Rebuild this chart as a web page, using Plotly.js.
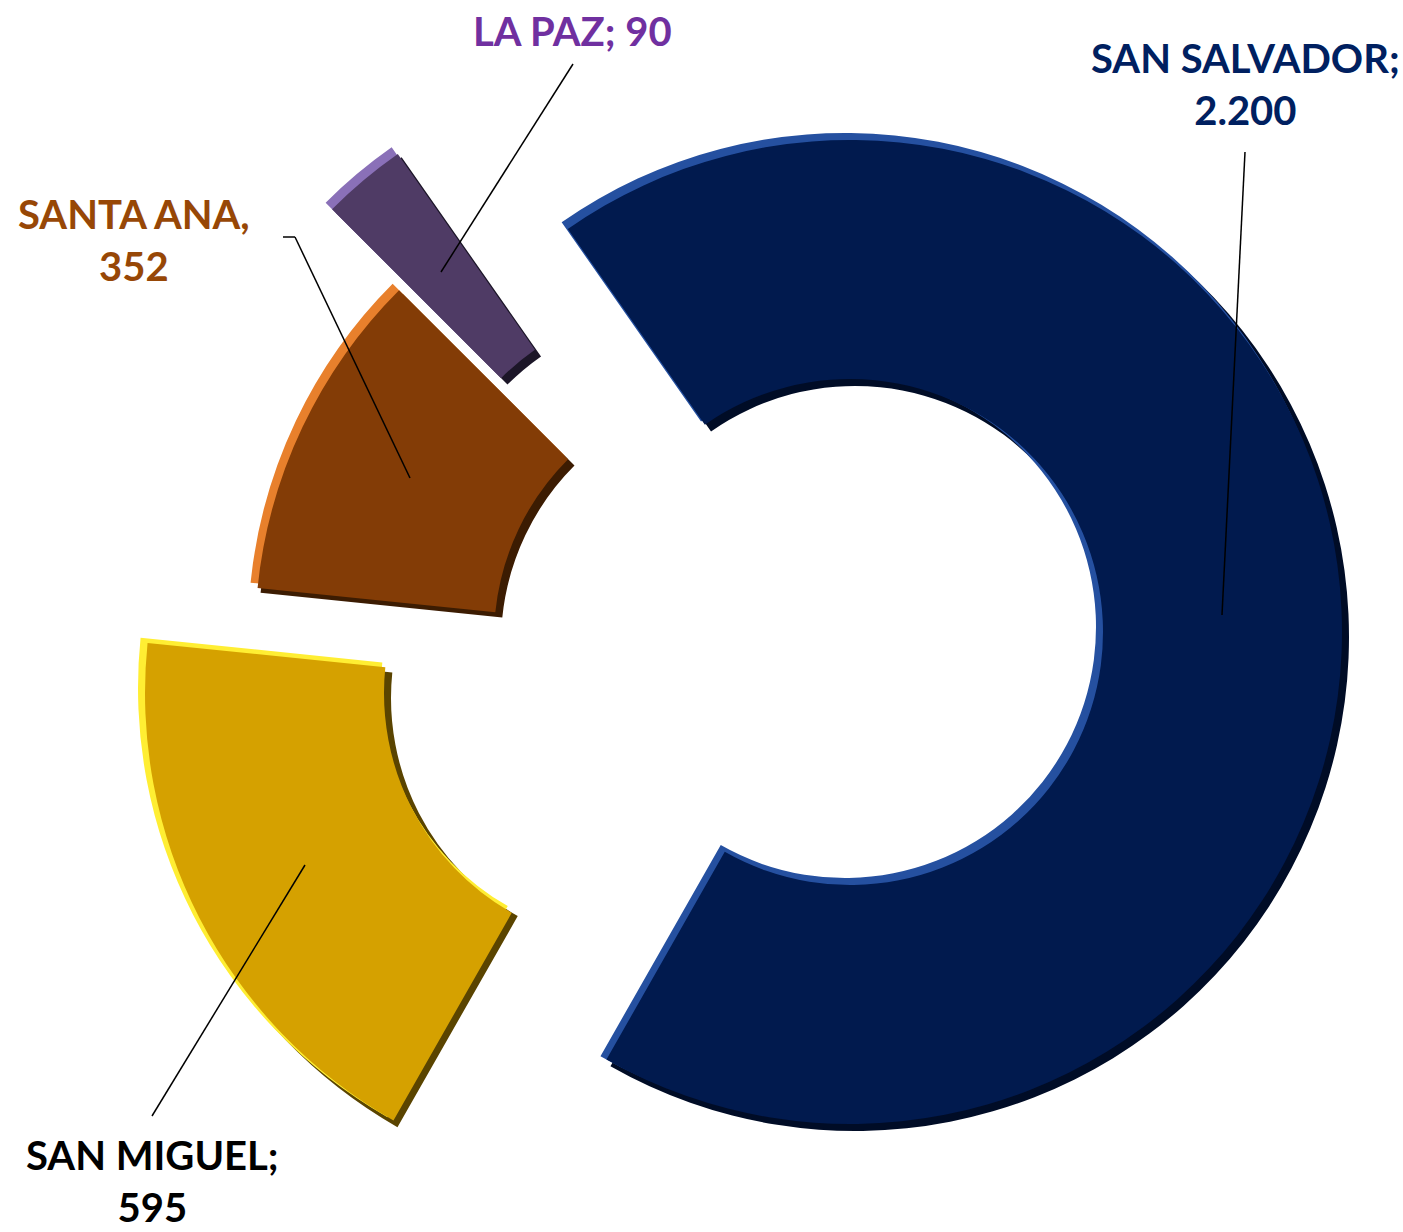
<!DOCTYPE html>
<html>
<head>
<meta charset="utf-8">
<script src="https://cdn.plot.ly/plotly-3.0.1.min.js"></script>
<style>html,body{margin:0;padding:0;background:#fff;}#chart{width:1403px;height:1232px;}</style>
</head>
<body>
<div id="chart"></div>
<script>
// ---- data ----
const departamentos = ["SAN SALVADOR", "SAN MIGUEL", "SANTA ANA", "LA PAZ"];
const cantidades = [2200, 595, 352, 90];
const etiquetas = ["SAN SALVADOR;<br>2.200", "SAN MIGUEL;<br>595", "SANTA ANA,<br>352", "LA PAZ; 90"];

// ---- styling / layout ----
const W = 1403, H = 1232;
const R = 494;
const HOLE_R = 251;
const faceColors = ["#011a4e", "#d5a100", "#833c06", "#4f3b65"];
const lightColors = ["#2550a0", "#ffee33", "#e8802c", "#8a70b8"];
const darkColors = ["#000c26", "#5a4400", "#3c1c02", "#1c1628"];
const labelColors = ["#002060", "#000000", "#974706", "#7030a0"];
// pixel centres of each (exploded) segment
const centres = [[850, 632], [637, 693], [747, 638], [680, 557]];
const shift = 5;   // bevel light/dark offset
const inset = 2;   // bevel width on arcs
// label positions (pixel centres of text blocks) and leader lines
const labelPos = [[1245, 84], [152, 1181], [134, 240], [572, 31]];
const leaders = [
  [[1245, 152], [1222, 615]],
  [[152, 1116], [305, 865]],
  [[283, 237], [295, 237], [410, 478]],
  [[573, 64], [441, 272]]
];

const px = x => x / W;
const py = y => 1 - y / H;

function segTrace(i, dx, dy, rOut, rIn, color) {
  const cx = centres[i][0] + dx, cy = centres[i][1] + dy;
  return {
    type: "pie",
    labels: departamentos,
    values: cantidades,
    sort: false,
    direction: "clockwise",
    rotation: -35,
    hole: rIn / rOut,
    textinfo: "none",
    hoverinfo: "skip",
    showlegend: false,
    domain: {x: [px(cx - rOut), px(cx + rOut)], y: [py(cy + rOut), py(cy - rOut)]},
    marker: {
      colors: departamentos.map((_, j) => j === i ? color : "rgba(0,0,0,0)"),
      line: {width: 0}
    }
  };
}

const traces = [];
departamentos.forEach((d, i) => {
  traces.push(segTrace(i, shift, shift, R, HOLE_R, darkColors[i]));
  traces.push(segTrace(i, -shift, -shift, R, HOLE_R, lightColors[i]));
  traces.push(segTrace(i, 0, 0, R - inset, HOLE_R + inset, faceColors[i]));
});

const annotations = etiquetas.map((t, i) => ({
  text: t,
  xref: "paper", yref: "paper",
  x: px(labelPos[i][0]), y: py(labelPos[i][1]),
  xanchor: "center", yanchor: "middle",
  showarrow: false,
  align: "center",
  font: {family: "Lato, 'Open Sans', sans-serif", size: 40, weight: 700, color: labelColors[i]}
}));

const shapes = [];
leaders.forEach(pts => {
  for (let k = 0; k < pts.length - 1; k++) {
    shapes.push({
      type: "line", xref: "paper", yref: "paper",
      x0: px(pts[k][0]), y0: py(pts[k][1]), x1: px(pts[k + 1][0]), y1: py(pts[k + 1][1]),
      line: {color: "#000000", width: 1.5}
    });
  }
});

Plotly.newPlot("chart", traces, {
  width: W, height: H,
  margin: {l: 0, r: 0, t: 0, b: 0},
  paper_bgcolor: "#ffffff",
  showlegend: false,
  annotations: annotations,
  shapes: shapes
}, {staticPlot: true});
</script>
</body>
</html>
